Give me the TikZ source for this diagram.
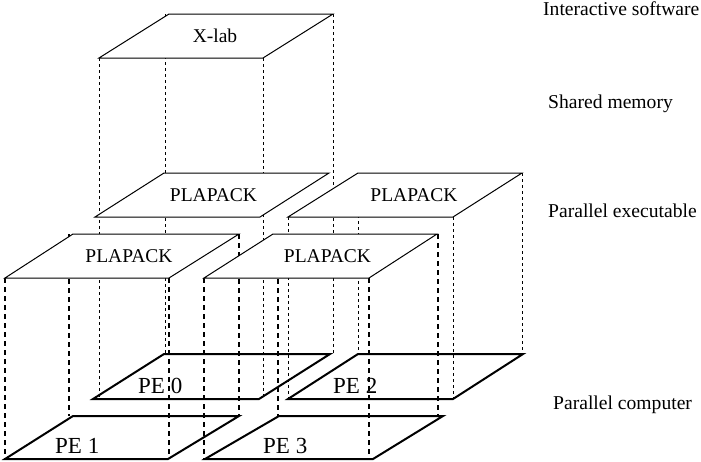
\documentclass[tikz,border=0pt]{standalone}
\usepackage{fontspec}
\setmainfont{Liberation Serif}
\begin{document}
\begin{tikzpicture}[x=1pt,y=-1pt,
  thinv/.style={line width=1pt, dash pattern=on 2.5pt off 3.5pt},
  thickv/.style={line width=2pt, dash pattern=on 5pt off 4pt},
  slab/.style={draw, fill=white, line width=1pt},
  pelayer/.style={draw, line width=2pt},
  lbl/.style={font=\fontsize{19.5}{22}\selectfont, anchor=base, inner sep=0pt},
  pelbl/.style={font=\fontsize{23}{26}\selectfont, anchor=base west, inner sep=0pt},
  side/.style={font=\fontsize{19.6}{22}\selectfont, anchor=base west, inner sep=0pt}]
\useasboundingbox (0,0) rectangle (701,461);

% back-left column (X-lab / PE 0), thin dotted
\draw[thinv] (99,58) -- (99,399);
\draw[thinv] (263,58) -- (263,399);
\draw[thinv] (165,14) -- (165,355);
\draw[thinv] (333,14) -- (333,355);
% back-right column (PE 2), thin dotted
\draw[thinv] (288,217) -- (288,399);
\draw[thinv] (453,217) -- (453,399);
\draw[thinv] (358,173) -- (358,355);
\draw[thinv] (522,173) -- (522,355);
% front-left column (PE 1), thick dashed
\draw[thickv] (5,278) -- (5,459);
\draw[thickv] (169,278) -- (169,459);
\draw[thickv] (69,234) -- (69,416);
\draw[thickv] (239,234) -- (239,416);
% front-right column (PE 3), thick dashed
\draw[thickv] (204,278) -- (204,459);
\draw[thickv] (369,278) -- (369,459);
\draw[thickv] (278,234) -- (278,416);
\draw[thickv] (438,234) -- (438,416);

% slabs
\draw[slab] (99,58) -- (263,58) -- (333,14) -- (169,14) -- cycle;
\node[lbl] (xlab) at (215,42) {X-lab};
\draw[slab] (95,217) -- (260,217) -- (329,173) -- (164,173) -- cycle;
\node[lbl] (plbl) at (213.5,201) {PLAPACK};
\draw[slab] (288,217) -- (453,217) -- (522,173) -- (358,173) -- cycle;
\node[lbl] (plbr) at (414,201) {PLAPACK};
\draw[slab] (5,278) -- (169,278) -- (239,234) -- (73,234) -- cycle;
\node[lbl] (plfl) at (129,262) {PLAPACK};
\draw[slab] (204,278) -- (369,278) -- (437,234) -- (273,234) -- cycle;
\node[lbl] (plfr) at (327.5,262) {PLAPACK};

% processor layers
\draw[pelayer] (93,399) -- (259,399) -- (330,354) -- (164,354) -- cycle;
\node[pelbl] (pe0) at (138,393) {PE 0};
\draw[pelayer] (288,399) -- (453,399) -- (523,354) -- (358,354) -- cycle;
\node[pelbl] (pe2) at (333,393) {PE 2};
\draw[pelayer] (5,459) -- (168,459) -- (239,416) -- (73,416) -- cycle;
\node[pelbl] (pe1) at (55,453) {PE 1};
\draw[pelayer] (205,459) -- (373,459) -- (443,416) -- (279,416) -- cycle;
\node[pelbl] (pe3) at (263,453) {PE 3};

% side labels
\node[side] (s1) at (543,15) {Interactive software};
\node[side] (s2) at (548,108) {Shared memory};
\node[side] (s3) at (548,217) {Parallel executable};
\node[side] (s4) at (553,409) {Parallel computer};
\end{tikzpicture}
\end{document}
